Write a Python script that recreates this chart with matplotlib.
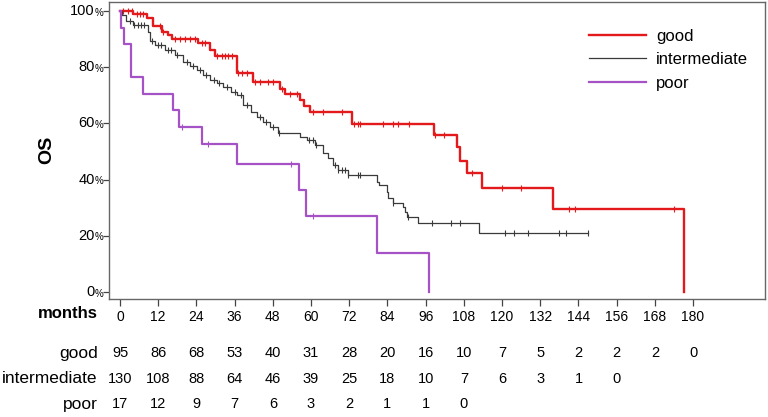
import numpy as np
import matplotlib
matplotlib.use('Agg')
import matplotlib.pyplot as plt

plt.rcParams['font.family'] = 'Liberation Sans'

# ── Kaplan-Meier step data (months, survival %) ──────────────────────────────
good_t = [4, 8.5, 10.5, 13.1, 15.0, 16.2, 24.5, 28.3, 29.8, 36.7, 41.8, 50.3,
          51.8, 56.5, 57.7, 59.8, 72.8, 98.7, 105.8, 106.8, 109.0, 113.6, 136.0, 177.0]
good_s = [98.9, 97.5, 94.7, 92.6, 91.5, 89.9, 88.7, 86.1, 84.0, 77.8, 74.6, 72.3,
          70.6, 68.3, 66.3, 64.2, 59.8, 56.0, 51.7, 46.7, 42.2, 36.9, 29.4, 0.0]
good_cens = [1, 2.5, 3.7, 5.2, 6.3, 7.3, 12.6, 13.5, 17.3, 18.8, 20.4, 22, 23.6,
             25.7, 26.7, 30.4, 31.9, 33, 34, 35.1, 37.2, 38.2, 39.8, 42.4, 44,
             46.5, 48, 51, 53.4, 55.5, 60.7, 63.7, 69.7, 73.5, 74.6, 75.4, 82.7,
             85.9, 87.4, 90.9, 99, 101.8, 110.5, 120, 126, 141, 143, 174]

inter_t = [0.5, 2, 4.2, 8.9, 9.4, 11, 14.1, 17.3, 19.8, 22, 24.1, 26, 28.3, 30.5,
           32.5, 35, 36.7, 38.7, 41, 42.9, 45, 47.1, 49.7, 56.5, 58.7, 61.3, 63.7,
           65.3, 67, 68.6, 71.7, 80.6, 81.5, 83.8, 84.2, 85.9, 89, 89.5, 90, 93.7, 112.9]
inter_s = [98.6, 96.5, 95.0, 92.6, 89.4, 87.9, 86.1, 84.3, 81.9, 80.5, 79.0, 77.3,
           75.4, 74.2, 73.0, 71.3, 70.1, 66.5, 64.2, 62.4, 60.5, 58.8, 56.5, 55.3,
           54.1, 52.3, 49.4, 47.6, 45.2, 43.4, 41.6, 39.3, 38.1, 35.7, 33.3, 31.6,
           30.4, 28.6, 26.8, 24.4, 20.9]
inter_cens = [3, 4.5, 5.5, 6.5, 7.5, 10, 12, 13, 15, 16, 18, 21, 23, 25, 27, 29.5,
              31, 33.5, 36, 38, 40, 44, 46, 48, 50, 59.5, 60.5, 61.5, 67.5, 68.6,
              69.7, 70.7, 71.7, 74.9, 75.4, 85.9, 90.6, 97.9, 103.9, 106.8, 121,
              123.9, 128.1, 137.9, 140, 147.1]

poor_t = [0.3, 1.3, 3.5, 7.3, 16.5, 18.6, 25.7, 36.7, 56.3, 58.4, 80.8, 97.1]
poor_s = [94.1, 88.2, 76.5, 70.6, 64.7, 58.8, 52.7, 45.4, 36.3, 27.2, 13.8, 0.0]
poor_cens = [19.4, 27.5, 53.6, 60.7]

# ── Numbers at risk ───────────────────────────────────────────────────────────
risk_months = [0, 12, 24, 36, 48, 60, 72, 84, 96, 108, 120, 132, 144, 156, 168, 180]
risk_good   = [95, 86, 68, 53, 40, 31, 28, 20, 16, 10, 7, 5, 2, 2, 2, 0]
risk_inter  = [130, 108, 88, 64, 46, 39, 25, 18, 10, 7, 6, 3, 1, 0]
risk_poor   = [17, 12, 9, 7, 6, 3, 2, 1, 1, 0]

groups = ['good', 'intermediate', 'poor']
colors = ['#e3191c', '#3a3a3a', '#a452c6']
widths = [1.7, 0.9, 1.6]


def km_curve(t, s, cens):
    t_all = np.concatenate([[0], t])
    s_all = np.concatenate([[100], s])
    end = max(max(t), max(cens) if cens else 0)
    if t_all[-1] < end:
        t_all = np.append(t_all, end)
        s_all = np.append(s_all, s_all[-1])
    idx = np.searchsorted(t_all, cens, side='right') - 1
    return t_all, s_all, s_all[idx]


fig = plt.figure(figsize=(7.68, 4.17), dpi=100)
ax = fig.add_axes([109 / 768, 118 / 417, 656 / 768, 297 / 417])

data = [(good_t, good_s, good_cens), (inter_t, inter_s, inter_cens),
        (poor_t, poor_s, poor_cens)]
for (t, s, c), name, col, lw in zip(data, groups, colors, widths):
    tt, ss, cs = km_curve(t, s, c)
    ax.step(tt, ss, where='post', color=col, lw=lw, label=name)
    ax.plot(c, cs, ls='none', marker='|', color=col, ms=5, mew=0.8)

ax.set_xlim(-3.46, 202.6)
ax.set_ylim(-2.5, 103.2)

for sp in ax.spines.values():
    sp.set_color('#666666')
    sp.set_linewidth(1.0)

ax.set_xticks(risk_months)
ax.set_xticklabels([str(m) for m in risk_months], fontsize=10)
ax.tick_params(axis='x', length=5, width=0.9, color='#444444', pad=3)

yt = [0, 20, 40, 60, 80, 100]
ax.set_yticks(yt)
ax.set_yticklabels([''] * len(yt))
ax.tick_params(axis='y', length=4.5, width=0.9, color='#444444')
ytr = ax.get_yaxis_transform()
for v in yt:
    ax.annotate(str(v), xy=(0, v), xycoords=ytr, xytext=(-10.3, 0),
                textcoords='offset points', ha='right', va='center', fontsize=10.5)
    ax.annotate('%', xy=(0, v), xycoords=ytr, xytext=(-4.3, -1.2),
                textcoords='offset points', ha='right', va='center', fontsize=7)

fig.text(47 / 768, 1 - 150 / 417, 'OS', rotation=90, fontsize=14,
         fontweight='bold', ha='center', va='center')

leg = ax.legend(loc='upper right', bbox_to_anchor=(0.997, 0.96), frameon=False,
                fontsize=12, handlelength=3.4, handletextpad=0.6,
                labelspacing=0.5)

# ── Risk table ────────────────────────────────────────────────────────────────
xtr = ax.get_xaxis_transform()
ax.text(-7, -0.05, 'months', transform=xtr, ha='right', va='center',
        fontsize=12, fontweight='bold', clip_on=False)
rows = [(risk_good, -0.182), (risk_inter, -0.269), (risk_poor, -0.355)]
for name, (vals, yy) in zip(groups, rows):
    ax.text(-7, yy, name, transform=xtr, ha='right', va='center',
            fontsize=12.5, clip_on=False)
    for m, v in zip(risk_months, vals):
        ax.text(m, yy, str(v), transform=xtr, ha='center', va='center',
                fontsize=10.5, clip_on=False)

plt.savefig('out.png', dpi=100)
plt.close()
